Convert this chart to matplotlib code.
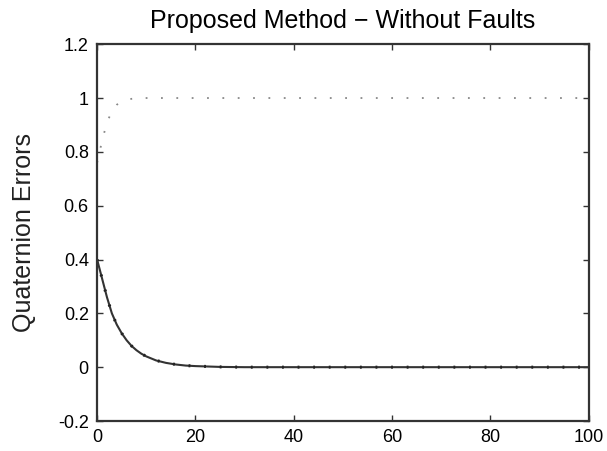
import matplotlib
matplotlib.use("Agg")
import matplotlib.pyplot as plt
from matplotlib.ticker import FormatStrFormatter

plt.rcParams["font.family"] = ["Liberation Sans", "DejaVu Sans"]
plt.rcParams["axes.unicode_minus"] = False

# time samples (s) and quaternion error components
t = [0, 1, 2, 3, 4, 5, 6, 7, 8, 9, 10, 12, 14, 16, 18, 20, 25, 30, 40, 60, 80, 100]
q_vec = [0.40, 0.33, 0.26, 0.20, 0.158, 0.126, 0.10, 0.079, 0.063, 0.05, 0.04,
         0.025, 0.016, 0.01, 0.006, 0.004, 0.001, 0.0, 0.0, 0.0, 0.0, 0.0]
q_scalar = [0.76, 0.84, 0.91, 0.95, 0.975, 0.988, 0.994, 0.997, 0.999, 1.0, 1.0,
            1.0, 1.0, 1.0, 1.0, 1.0, 1.0, 1.0, 1.0, 1.0, 1.0, 1.0]
q_other = [0.40, 0.33, 0.26, 0.20, 0.158, 0.126, 0.10, 0.079, 0.063, 0.05, 0.04,
           0.025, 0.016, 0.01, 0.006, 0.004, 0.001, 0.0, 0.0, 0.0, 0.0, 0.0]

xticks = [0, 20, 40, 60, 80, 100]
yticks = [-0.2, 0, 0.2, 0.4, 0.6, 0.8, 1, 1.2]

fig = plt.figure(figsize=(6.07, 4.51), dpi=100)
ax = fig.add_axes([0.160, 0.0665, 0.810, 0.8355])

ax.plot(t, q_vec, color="#333333", linewidth=1.5)
ax.plot(t, q_other, color="#222222", linewidth=2.2, linestyle=(0, (0.6, 4.5)))
ax.plot(t, q_scalar, color="#888888", linewidth=1.3, linestyle=(0, (1, 7.5)))

ax.set_xlim(0, 100)
ax.set_ylim(-0.2, 1.2)
ax.set_xticks(xticks)
ax.set_yticks(yticks)
ax.yaxis.set_major_formatter(FormatStrFormatter("%g"))
ax.tick_params(direction="in", length=4, width=1, labelsize=13, color="#333333",
               top=True, right=True, pad=6)
for s in ax.spines.values():
    s.set_linewidth(1.6)
    s.set_color("#333333")

ax.set_title("Proposed Method \u2212 Without Faults", fontsize=18, pad=12)
ax.set_ylabel("Quaternion Errors", fontsize=18, labelpad=16, color="#222222")

fig.savefig("out.png", dpi=100)
